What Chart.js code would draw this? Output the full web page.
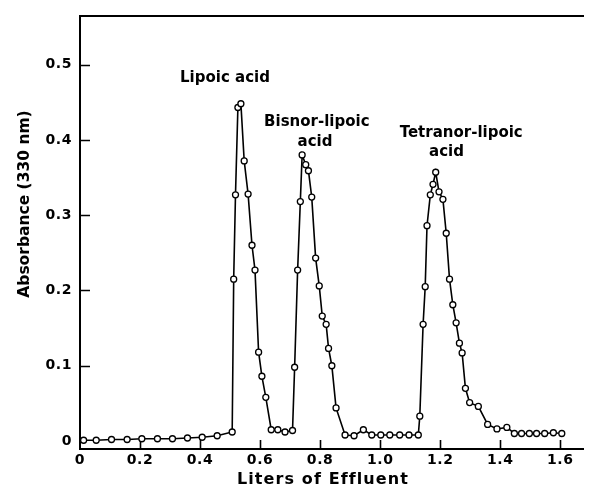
<!DOCTYPE html>
<html>
<head>
<meta charset="utf-8">
<script src="https://cdn.jsdelivr.net/npm/chart.js@4.4.1/dist/chart.umd.min.js"></script>
<style>
  body { margin: 0; background: #fff; }
  canvas { display: block; }
</style>
</head>
<body>
<canvas id="chart" width="589" height="491"></canvas>
<script>
// Elution volume (liters) and absorbance at 330 nm
const volume = [
    0.012, 0.054, 0.105, 0.157, 0.206, 0.258, 0.308, 0.358, 0.407, 0.457, 0.507,
    0.512, 0.518, 0.526, 0.536, 0.547, 0.560, 0.573, 0.583, 0.595, 0.606, 0.619, 0.637, 0.659, 0.683, 0.708,
    0.715, 0.725, 0.734, 0.740, 0.752, 0.761, 0.772, 0.785, 0.797, 0.807, 0.820, 0.828, 0.839, 0.853,
    0.883, 0.913, 0.944, 0.972, 1.002, 1.032, 1.065, 1.096, 1.127,
    1.132, 1.143, 1.150, 1.156, 1.167, 1.176, 1.185, 1.196, 1.209, 1.220, 1.231, 1.242, 1.253, 1.264,
    1.273, 1.284, 1.298, 1.327, 1.358, 1.389, 1.422, 1.447, 1.471, 1.497, 1.521, 1.548, 1.577, 1.605
];
const absorbance = [
    0.001, 0.001, 0.002, 0.002, 0.003, 0.003, 0.003, 0.004, 0.005, 0.007, 0.012,
    0.215, 0.327, 0.443, 0.448, 0.372, 0.328, 0.260, 0.227, 0.118, 0.086, 0.058, 0.015, 0.015, 0.012, 0.014,
    0.098, 0.227, 0.318, 0.380, 0.367, 0.359, 0.324, 0.243, 0.206, 0.166, 0.155, 0.123, 0.100, 0.044,
    0.008, 0.007, 0.015, 0.008, 0.008, 0.008, 0.008, 0.008, 0.008,
    0.033, 0.155, 0.205, 0.286, 0.327, 0.341, 0.357, 0.331, 0.321, 0.276, 0.215, 0.181, 0.157, 0.130,
    0.117, 0.070, 0.051, 0.046, 0.022, 0.016, 0.018, 0.010, 0.010, 0.010, 0.010, 0.010, 0.011, 0.010
];

const xTicks = [0, 0.2, 0.4, 0.6, 0.8, 1.0, 1.2, 1.4, 1.6];
const yTicks = [0, 0.1, 0.2, 0.3, 0.4, 0.5];

const xTitle = 'Liters of Effluent';
const yTitle = 'Absorbance (330 nm)';
const peakNames = [['Lipoic acid'], ['Bisnor-lipoic', 'acid'], ['Tetranor-lipoic', 'acid']];

const FONT = '"DejaVu Sans", sans-serif';
const X_MAX = 1.678;
const Y_MIN = -0.0106;
const Y_MAX = 0.564;

function tickLabel(v) {
    return v === 0 ? '0' : v.toFixed(1);
}

// inward ticks, axis titles and peak names
const decorations = {
    id: 'decorations',
    beforeDraw(chart) {
        chart.ctx.letterSpacing = '0.6px';
    },
    beforeDatasetsDraw(chart) {
        const ctx = chart.ctx;
        const xs = chart.scales.x, ys = chart.scales.y;
        const area = chart.chartArea;
        ctx.save();
        ctx.strokeStyle = '#000';
        ctx.lineWidth = 1.6;
        ctx.beginPath();
        yTicks.forEach(v => {
            if (v === 0) return;
            const py = Math.round(ys.getPixelForValue(v)) + 0.5;
            ctx.moveTo(area.left, py);
            ctx.lineTo(area.left + 10, py);
        });
        xTicks.forEach(v => {
            if (v === 0) return;
            const px = Math.round(xs.getPixelForValue(v)) + 0.5;
            ctx.moveTo(px, area.bottom);
            ctx.lineTo(px, area.bottom - 9);
        });
        ctx.stroke();
        ctx.restore();
    },
    afterDraw(chart) {
        const ctx = chart.ctx;
        const xs = chart.scales.x, ys = chart.scales.y;
        ctx.save();
        ctx.fillStyle = '#000';
        ctx.textAlign = 'center';
        ctx.textBaseline = 'middle';

        // axis titles
        ctx.font = 'bold 16px ' + FONT;
        ctx.letterSpacing = '1.1px';
        ctx.fillText(xTitle, 323, 480);
        ctx.save();
        ctx.translate(25, 204);
        ctx.rotate(-Math.PI / 2);
        ctx.font = 'bold 15.5px ' + FONT;
        ctx.letterSpacing = '0px';
        ctx.fillText(yTitle, 0, 0);
        ctx.restore();

        // peak names, anchored in data units
        const anchors = [
            [[0.483, 0.482]],
            [[0.789, 0.424], [0.783, 0.397]],
            [[1.270, 0.409], [1.221, 0.384]]
        ];
        ctx.font = 'bold 15px ' + FONT;
        ctx.letterSpacing = '0px';
        peakNames.forEach((lines, i) => {
            lines.forEach((txt, j) => {
                const [ax, ay] = anchors[i][j];
                ctx.fillText(txt, xs.getPixelForValue(ax), ys.getPixelForValue(ay));
            });
        });
        ctx.restore();
    }
};

const ctx = document.getElementById('chart').getContext('2d');
const chart = new Chart(ctx, {
    type: 'line',
    data: {
        datasets: [{
            data: volume.map((v, i) => ({ x: v, y: absorbance[i] })),
            borderColor: '#000',
            borderWidth: 1.6,
            tension: 0,
            pointRadius: 3,
            pointBorderWidth: 1.3,
            pointBackgroundColor: '#fff',
            pointBorderColor: '#000',
            clip: false
        }]
    },
    options: {
        responsive: false,
        devicePixelRatio: 1,
        animation: false,
        layout: { padding: { top: 15, right: 3, left: 0, bottom: 0 } },
        plugins: {
            legend: { display: false },
            tooltip: { enabled: false }
        },
        scales: {
            x: {
                type: 'linear',
                position: 'bottom',
                min: 0,
                max: X_MAX,
                grid: { display: false, drawTicks: false },
                border: { display: true, color: '#000', width: 2 },
                ticks: {
                    color: '#000',
                    font: { family: FONT, size: 14, weight: 'bold' },
                    padding: 3,
                    autoSkip: false,
                    maxRotation: 0,
                    callback: tickLabel
                },
                afterBuildTicks: s => { s.ticks = xTicks.map(v => ({ value: v })); },
                afterFit: s => { s.height = 42; }
            },
            x2: {
                type: 'linear',
                position: 'top',
                min: 0,
                max: X_MAX,
                grid: { display: false, drawTicks: false },
                ticks: { display: false },
                border: { display: true, color: '#000', width: 2 },
                afterFit: s => { s.height = 0; }
            },
            y: {
                type: 'linear',
                min: Y_MIN,
                max: Y_MAX,
                grid: { display: false, drawTicks: false },
                border: { display: true, color: '#000', width: 2 },
                ticks: {
                    color: '#000',
                    font: { family: FONT, size: 14, weight: 'bold' },
                    padding: 8,
                    callback: tickLabel
                },
                afterBuildTicks: s => { s.ticks = yTicks.map(v => ({ value: v })); },
                afterFit: s => { s.width = 80; }
            }
        }
    },
    plugins: [decorations]
});
</script>
</body>
</html>
